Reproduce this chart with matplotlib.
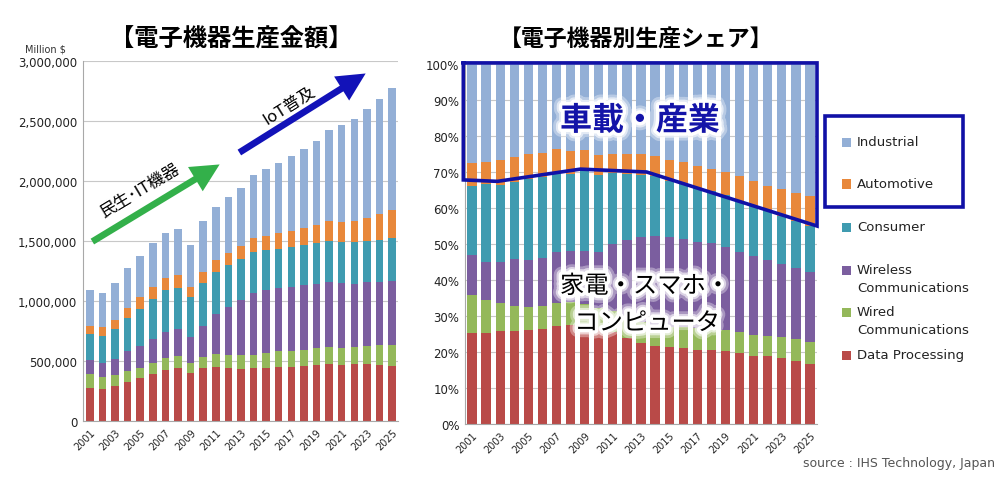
import numpy as np
import matplotlib
matplotlib.use("Agg")
import matplotlib.pyplot as plt
import matplotlib.patheffects as pe
from matplotlib.patches import Rectangle, FancyArrowPatch
from matplotlib.ticker import FuncFormatter

plt.rcParams['font.family'] = ['DejaVu Sans', 'Noto Sans CJK JP']
JP = ['Noto Sans CJK JP', 'DejaVu Sans']

# data (Million $)
years = list(range(2001, 2026))
data_processing = [278000, 270000, 297000, 330000, 358000, 392000, 425000, 442000, 400000, 442000,
                   456000, 447000, 439000, 442000, 447000, 456000, 456000, 464000, 472000, 478000,
                   467000, 475000, 475000, 472000, 464000]
wired = [114000, 99000, 92000, 87000, 89000, 94000, 100000, 102000, 86000, 94000,
         105000, 106000, 111000, 114000, 120000, 127000, 133000, 133000, 136000, 141000,
         141000, 144000, 150000, 159000, 167000]
wireless = [122000, 114000, 130000, 169000, 181000, 195000, 222000, 225000, 217000, 261000,
            331000, 400000, 461000, 514000, 527000, 525000, 530000, 539000, 539000, 539000,
            545000, 528000, 531000, 530000, 541000]
consumer = [211000, 231000, 248000, 270000, 308000, 336000, 342000, 342000, 328000, 353000,
            350000, 344000, 336000, 341000, 328000, 328000, 328000, 328000, 339000, 345000,
            339000, 342000, 341000, 350000, 356000]
automotive = [69000, 67000, 80000, 88000, 97000, 97000, 106000, 103000, 83000, 92000,
              97000, 103000, 111000, 114000, 120000, 131000, 134000, 142000, 147000, 165000,
              169000, 178000, 197000, 211000, 228000]
industrial = [303000, 291000, 306000, 331000, 342000, 367000, 372000, 389000, 350000, 422000,
              444000, 467000, 486000, 522000, 561000, 586000, 627000, 658000, 700000, 754000,
              803000, 852000, 903000, 964000, 1022000]

series_names = ["Data Processing", "Wired\nCommunications", "Wireless\nCommunications",
                "Consumer", "Automotive", "Industrial"]
series_values = [data_processing, wired, wireless, consumer, automotive, industrial]
colors = ["#b94a48", "#94b85a", "#7b5e9f", "#3f9bb0", "#e8883b", "#93afd6"]

W, H = 1000, 485


def px(x, y):
    # pixel (from top-left) -> figure fraction
    return (x / W, 1 - y / H)


fig = plt.figure(figsize=(10, 4.85), dpi=100)
fig.patch.set_facecolor("white")

x = np.arange(len(years))
vals = np.array(series_values, dtype=float)
totals = vals.sum(axis=0)
shares = vals / totals * 100

# ---------- left: production value ----------
ax1 = fig.add_axes([0.0827, 0.1293, 0.3153, 0.743])
bottom = np.zeros(len(years))
for v, c in zip(vals, colors):
    ax1.bar(x, v, 0.6, bottom=bottom, color=c, zorder=2)
    bottom += v
ax1.set_xlim(-0.56, 24.47)
ax1.set_ylim(0, 3000000)
ax1.set_yticks(np.arange(0, 3000001, 500000))
ax1.yaxis.set_major_formatter(FuncFormatter(lambda v, p: "{:,.0f}".format(v)))

# ---------- right: share ----------
ax2 = fig.add_axes([0.465, 0.1237, 0.352, 0.7423])
bottom = np.zeros(len(years))
for s, c in zip(shares, colors):
    ax2.bar(x, s, 0.66, bottom=bottom, color=c, zorder=2)
    bottom += s
ax2.set_xlim(-0.5, 24.5)
ax2.set_ylim(0, 100)
ax2.set_yticks(np.arange(0, 101, 10))
ax2.yaxis.set_major_formatter(FuncFormatter(lambda v, p: "{:.0f}%".format(v)))

for ax in (ax1, ax2):
    ax.set_xticks(x[::2])
    ax.set_xticklabels([str(y) for y in years[::2]], rotation=45, ha="right",
                       rotation_mode="anchor", fontsize=7, color="#222222")
    ax.tick_params(axis="x", length=0, pad=4)
    ax.tick_params(axis="y", length=0, labelsize=8.5, labelcolor="#222222", pad=4)
    ax.yaxis.grid(True, color="#c8c8c8", lw=0.8, zorder=0)
    ax.set_axisbelow(True)
    for sp in ("top", "right"):
        ax.spines[sp].set_visible(False)
    ax.spines["left"].set_color("#a8a8a8")
    ax.spines["bottom"].set_color("#a8a8a8")

# blue outline round the automotive / industrial area
box_x = [-0.62, 24.5, 24.5, 12.4, 7.7, 1.8, -0.62, -0.62]
box_y = [100.3, 100.3, 55.0, 70.0, 70.8, 67.4, 67.8, 100.3]
ax2.plot(box_x, box_y, color="#1111a6", lw=2.6, clip_on=False, zorder=5,
         solid_joinstyle="miter")

# ---------- titles & texts ----------
fig.text(*px(231, 40), "【電子機器生産金額】", family=JP, fontsize=17.5, fontweight="bold",
         ha="center", va="center")
fig.text(*px(636, 40), "【電子機器別生産シェア】", family=JP, fontsize=16.5, fontweight="bold",
         ha="center", va="center")
fig.text(*px(45, 50), "Million $", fontsize=7, ha="center", va="center", color="#333333")
fig.text(*px(995, 463), "source : IHS Technology, Japan", fontsize=9, ha="right",
         va="center", color="#555555")

# arrows
fig.add_artist(FancyArrowPatch(px(90, 244), px(222, 164), transform=fig.transFigure,
                               arrowstyle="simple,head_length=1.7,head_width=1.7,tail_width=0.4",
                               mutation_scale=12, color="#33b04a", lw=0))
fig.add_artist(FancyArrowPatch(px(237, 155), px(368, 73), transform=fig.transFigure,
                               arrowstyle="simple,head_length=1.7,head_width=1.7,tail_width=0.4",
                               mutation_scale=12, color="#1212b8", lw=0))
fig.text(*px(140, 191), "民生･IT機器", family=JP, fontsize=12, rotation=31,
         ha="center", va="center")
fig.text(*px(289, 106), "IoT普及", family=JP, fontsize=12, rotation=32,
         ha="center", va="center")

# soft white glow behind the big labels
glow = [pe.withStroke(linewidth=12, foreground="white", alpha=0.35),
        pe.withStroke(linewidth=8, foreground="white", alpha=0.6),
        pe.withStroke(linewidth=5, foreground="white")]
fig.text(*px(640, 122), "車載・産業", family=JP, fontsize=23, fontweight="bold",
         color="#1414a8", ha="center", va="center", path_effects=glow)
fig.text(*px(645, 287), "家電・スマホ・", family=JP, fontsize=17.5,
         color="black", ha="center", va="center", path_effects=glow)
fig.text(*px(647, 324), "コンピュータ", family=JP, fontsize=17.5,
         color="black", ha="center", va="center", path_effects=glow)

# ---------- legend ----------
legend_rows = [(5, 143), (4, 185), (3, 228), (2, 271), (1, 313), (0, 356)]
for i, yy in legend_rows:
    x0, y0 = px(842, yy + 4.5)
    fig.add_artist(Rectangle((x0, y0), 9 / W, 9 / H, transform=fig.transFigure,
                             color=colors[i], lw=0))
    for k, line in enumerate(series_names[i].split("\n")):
        fig.text(*px(857, yy + 18 * k), line, fontsize=9.5, ha="left", va="center",
                 color="#222222")

lx0, ly0 = px(825, 208)
fig.add_artist(Rectangle((lx0, ly0), (963 - 825) / W, (208 - 117) / H,
                         transform=fig.transFigure, fill=False, edgecolor="#1111a6", lw=2.6))

fig.savefig("out.png", dpi=100)
